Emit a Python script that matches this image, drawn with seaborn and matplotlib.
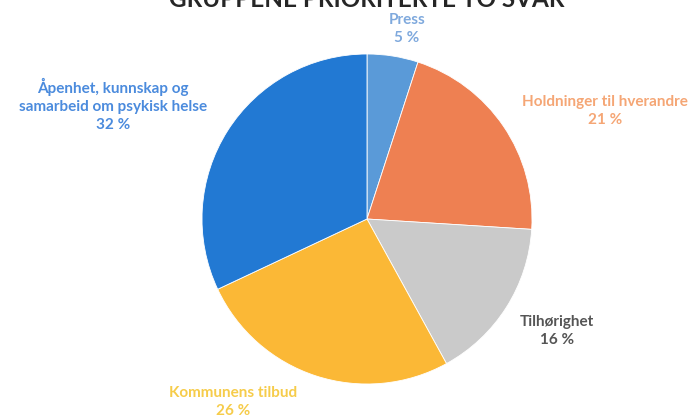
import matplotlib
matplotlib.use("Agg")
import matplotlib.pyplot as plt
import seaborn as sns

# data (clockwise from top)
categories = ["Press", "Holdninger til hverandre", "Tilhørighet",
              "Kommunens tilbud", "Åpenhet, kunnskap og\nsamarbeid om psykisk helse"]
shares = [5, 21, 16, 26, 32]
slice_colors = ["#5A9AD8", "#EE8052", "#CACACA", "#FBB836", "#2279D3"]
label_colors = ["#7FA9DD", "#F5A675", "#555555", "#F6CC4A", "#4B8BDD"]
title = "GRUPPENE PRIORITERTE TO SVAR"

sns.set_theme(style="white")
plt.rcParams["font.family"] = ["Lato", "DejaVu Sans"]

W, H = 700, 420
cx, cy, r = 367, 219, 165
fig = plt.figure(figsize=(W / 100, H / 100), dpi=100)
ax = fig.add_axes([(cx - r) / W, (H - cy - r) / H, 2 * r / W, 2 * r / H])

ax.pie(shares, colors=sns.color_palette(slice_colors), startangle=90,
       counterclock=False, radius=1,
       wedgeprops=dict(edgecolor="white", linewidth=0.6))
ax.set_xlim(-1, 1)
ax.set_ylim(-1, 1)
ax.set_aspect("equal")
ax.axis("off")

# label block centres in pixels
label_px = [(407, 29), (605, 111), (557, 331), (233, 402), (113, 105)]
for cat, v, col, (px, py) in zip(categories, shares, label_colors, label_px):
    ax.text((px - cx) / r, (cy - py) / r, f"{cat}\n{v} %", ha="center", va="center",
            color=col, fontsize=11, fontweight="bold", linespacing=1.35, clip_on=False)

fig.text(cx / W, (H - 7) / H, title, ha="center", va="baseline",
         fontsize=17.5, fontweight="bold", color="#262626")

fig.savefig("out.png", dpi=100)
